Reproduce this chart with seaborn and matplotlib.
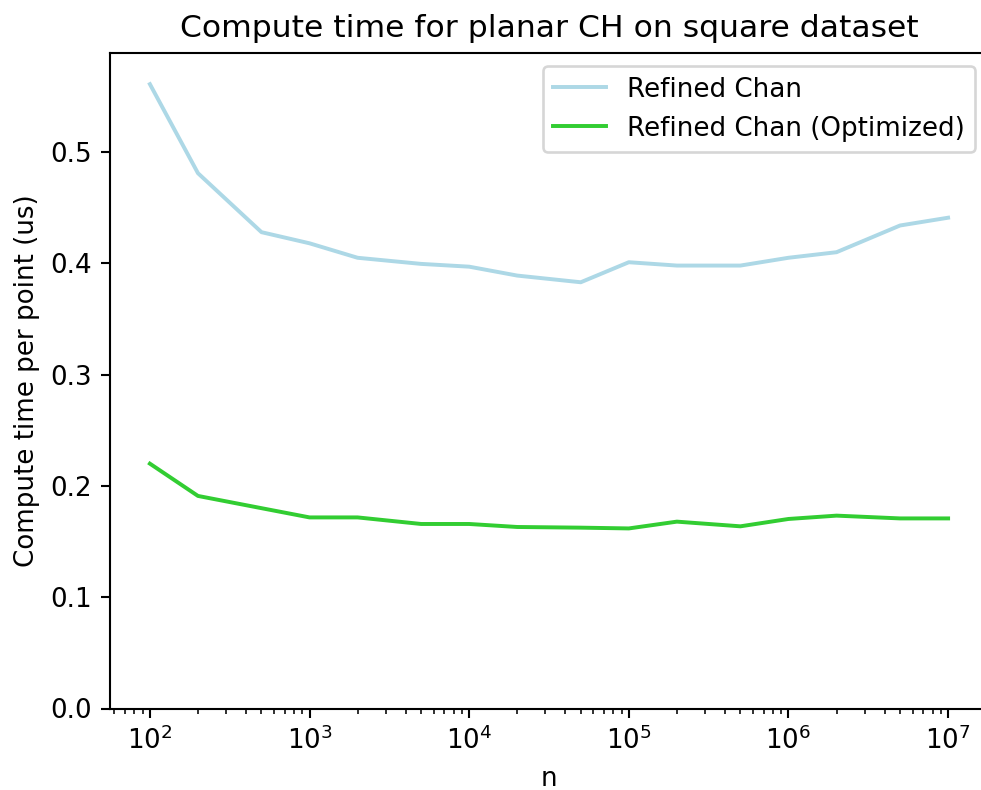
import matplotlib
matplotlib.use("Agg")
import matplotlib.pyplot as plt
import seaborn as sns
import pandas as pd

# Problem sizes and per-point compute time (microseconds)
n_values = [1e2, 2e2, 5e2, 1e3, 2e3, 5e3, 1e4, 2e4, 5e4,
            1e5, 2e5, 5e5, 1e6, 2e6, 5e6, 1e7]
refined_chan = [0.561, 0.481, 0.428, 0.418, 0.405, 0.3995, 0.397, 0.389, 0.383,
                0.401, 0.398, 0.398, 0.405, 0.410, 0.434, 0.441]
refined_chan_opt = [0.220, 0.191, 0.180, 0.1717, 0.1717, 0.1658, 0.1658, 0.1631, 0.1625,
                    0.1618, 0.1679, 0.1637, 0.1703, 0.1733, 0.1708, 0.1708]
series_names = ["Refined Chan", "Refined Chan (Optimized)"]
series_colors = ["lightblue", "limegreen"]

df = pd.concat([
    pd.DataFrame({"n": n_values, "time": refined_chan, "method": series_names[0]}),
    pd.DataFrame({"n": n_values, "time": refined_chan_opt, "method": series_names[1]}),
])

plt.rcParams["font.family"] = ["DejaVu Sans"]

DPI = 188.5
W, H = 982, 790
fig = plt.figure(figsize=(W / DPI, H / DPI), dpi=DPI)
left, right, top, bottom = 110, 988, 53, 708.5
ax = fig.add_axes([left / W, 1 - bottom / H, (right - left) / W, (bottom - top) / H])

sns.lineplot(data=df, x="n", y="time", hue="method", palette=series_colors,
             hue_order=series_names, ax=ax, linewidth=1.5)

ax.set_xscale("log")
ax.set_ylim(0, 0.589)
ax.set_xlabel("n")
ax.set_ylabel("Compute time per point (us)")
ax.set_title("Compute time for planar CH on square dataset")
ax.legend(loc="upper right", title=None)

fig.savefig("out.png", dpi=DPI)
